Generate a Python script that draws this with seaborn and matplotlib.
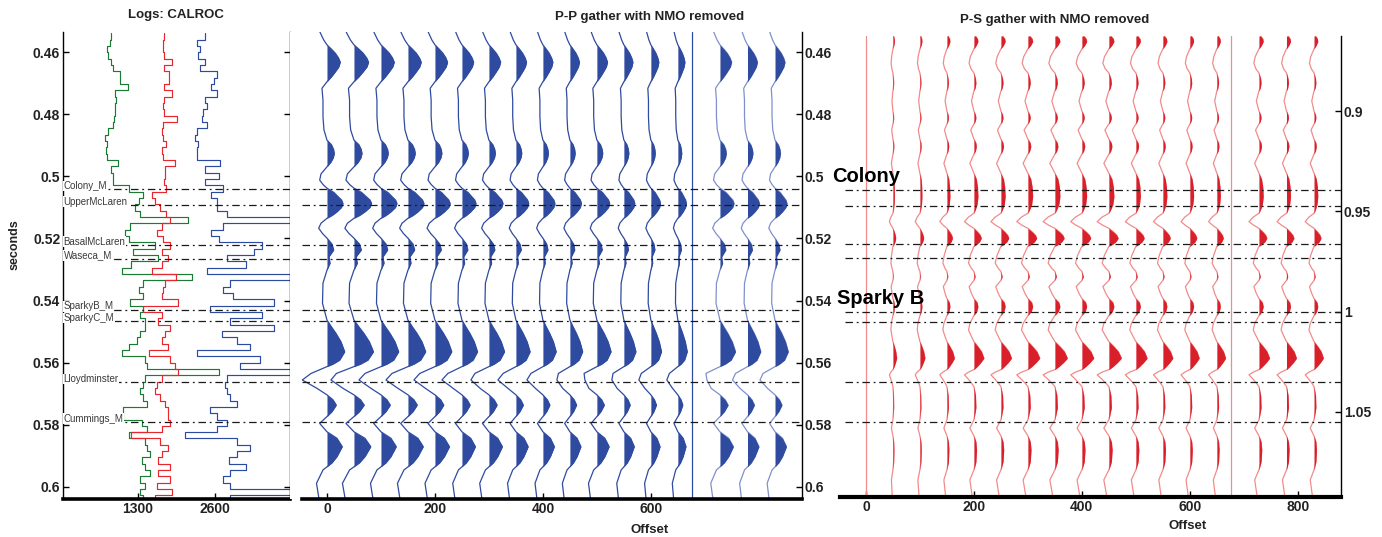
import numpy as np
import pandas as pd
import matplotlib.pyplot as plt
import matplotlib.ticker as mticker
import seaborn as sns

# well logs (CALROC), one sample every ~2 ms starting at 0.4539 s
LOG_T0 = 0.4539
LOG_DT = 0.00204
log_green = [840, 830, 780, 800, 840, 880, 1000, 990, 1130, 910,
             930, 920, 910, 900, 870, 800, 740, 770, 760, 780,
             970, 840, 880, 870, 1140, 1390, 1320, 1250, 1330, 2150,
             1170, 1080, 1140, 1590, 1220, 1640, 1190, 1030, 2210, 1390,
             1310, 1390, 1170, 1390, 1330, 1420, 1420, 1330, 1280, 1150,
             1030, 1420, 1450, 2660, 1420, 1390, 1330, 1390, 1450, 1050,
             1050, 1360, 1450, 1140, 1420, 1450, 1500, 1360, 1420, 1500,
             1330, 1420, 1330, 1390, 1420, 1420]
log_red = [1740, 1730, 1730, 1740, 1870, 1740, 1830, 1820, 1740, 1870,
           1740, 1730, 1740, 1960, 1720, 1700, 1720, 1780, 1700, 1720,
           1930, 1760, 1760, 1740, 1780, 1530, 1590, 1670, 1780, 1840,
           1700, 1620, 1720, 1840, 1700, 1810, 1700, 1530, 1950, 1760,
           1730, 1700, 1980, 1390, 1700, 1640, 1840, 1760, 1700, 1810,
           1480, 1840, 1930, 1980, 1700, 1620, 1590, 1670, 1760, 1810,
           1810, 1840, 1700, 1190, 1670, 1810, 1700, 1640, 1840, 1640,
           1840, 1620, 1870, 1590, 1590, 1590]
log_blue = [2430, 2290, 2340, 2320, 2430, 2350, 2630, 2580, 2540, 2630,
            2430, 2460, 2400, 2380, 2460, 2290, 2260, 2320, 2290, 2290,
            2690, 2430, 2660, 2430, 2740, 2540, 2630, 2630, 2800, 3870,
            2740, 2540, 2660, 3390, 3250, 2800, 3130, 2460, 3870, 2850,
            2740, 2910, 3590, 2520, 3390, 2850, 3590, 2710, 2970, 3190,
            2290, 3360, 3020, 3870, 2800, 2770, 2800, 2850, 2970, 2520,
            2630, 2800, 2630, 2090, 2970, 3190, 2970, 2830, 3130, 2850,
            2740, 2850, 3870, 2850, 2910, 2910]

# formation tops in P-P time and in P-S time
tops_names = ['Colony_M', 'UpperMcLaren', 'BasalMcLaren', 'Waseca_M',
              'SparkyB_M', 'SparkyC_M', 'Lloydminster', 'Cummings_M']
tops_pp = [0.5042, 0.5092, 0.5221, 0.5266, 0.5430, 0.5467, 0.5664, 0.5792]
tops_ps = [0.9394, 0.9474, 0.9663, 0.9733, 1.0001, 1.0051, 1.0352, 1.0550]

# P-P synthetic trace (amplitude in offset units) and per-trace values
pp_time = [0.4535, 0.4560, 0.4576, 0.4590, 0.4603, 0.4618, 0.4632, 0.4647, 0.4663, 0.4679,
           0.4695, 0.4716, 0.4754, 0.4808, 0.4850, 0.4883, 0.4898, 0.4913, 0.4926, 0.4940,
           0.4955, 0.4969, 0.4992, 0.5012, 0.5026, 0.5038, 0.5052, 0.5065, 0.5076, 0.5087,
           0.5100, 0.5114, 0.5126, 0.5135, 0.5151, 0.5167, 0.5184, 0.5199, 0.5218, 0.5237,
           0.5259, 0.5280, 0.5302, 0.5344, 0.5409, 0.5463, 0.5485, 0.5506, 0.5533, 0.5565,
           0.5592, 0.5605, 0.5613, 0.5635, 0.5656, 0.5683, 0.5704, 0.5720, 0.5737, 0.5758,
           0.5774, 0.5796, 0.5823, 0.5844, 0.5871, 0.5903, 0.5923, 0.5936, 0.5946, 0.5989,
           0.6039]
pp_amp = [-13.0, -6.1, 0, 8.3, 15.4, 21.3, 24.6, 21.9, 15.4, 8.3,
          0, -9.3, -7.4, -7.4, -5.6, 0, 8.3, 12.2, 13.5, 11.7,
          6.9, 0, -11.1, -13.5, -7.4, 0, 13.0, 20.4, 26.9, 29.6,
          26.9, 18.5, 9.3, 0, -11.1, -15.4, -8.3, 0, 9.3, 12.4,
          3.7, 5.6, 0, -7.4, -8.3, 0, 8.3, 16.7, 25.9, 32.8,
          23.5, 11.1, 0, -29.6, -45.7, -18.5, 0, 11.1, 17.2, 9.3,
          0, -13.5, 0, 18.5, 28.3, 18.5, 9.3, 0, -7.4, -19.4,
          -14.8]
pp_offsets = [0, 50, 100, 150, 200, 250, 300, 350, 400, 450, 500, 550, 600, 650, 677, 728, 779, 830]
pp_gain = [1.0, 1.1, 1.0, 1.0, 0.95, 0.88, 0.88, 0.8, 0.75, 0.72, 0.8, 0.68, 0.6, 0.53, 0.0, 0.88, 0.75, 0.75]
pp_trough = [-45.7, -42.6, -40.7, -40.7, -38.9, -37.0, -33.3, -33.3, -29.6, -24.1,
             -22.2, -22.2, -22.2, -20.4, 0.0, -24.1, -27.8, -27.8]
PP_TROUGH_AT = 54

# P-S synthetic trace (amplitude in offset units) and per-trace gains
ps_time = [0.8626, 0.8640, 0.8654, 0.8672, 0.8690, 0.8730, 0.8762, 0.8790, 0.8810, 0.8840,
           0.8862, 0.8885, 0.8900, 0.8950, 0.9000, 0.9020, 0.9036, 0.9052, 0.9065, 0.9095,
           0.9140, 0.9160, 0.9178, 0.9198, 0.9215, 0.9261, 0.9310, 0.9340, 0.9380, 0.9427,
           0.9465, 0.9490, 0.9510, 0.9530, 0.9552, 0.9570, 0.9585, 0.9605, 0.9620, 0.9635,
           0.9652, 0.9665, 0.9675, 0.9720, 0.9759, 0.9785, 0.9800, 0.9826, 0.9845, 0.9876,
           0.9910, 0.9935, 0.9955, 0.9976, 1.0000, 1.0020, 1.0060, 1.0092, 1.0125, 1.0150,
           1.0175, 1.0200, 1.0233, 1.0255, 1.0275, 1.0290, 1.0303, 1.0316, 1.0337, 1.0357,
           1.0374, 1.0420, 1.0480, 1.0540, 1.0582, 1.0620, 1.0650, 1.0690, 1.0750, 1.0790,
           1.0840, 1.0925]
ps_amp = [3.7, 8.3, 9.3, 5.6, 0, -8.3, -11.1, -6.5, 0, 3.7,
          4.6, 2.8, 0, -5.6, 0, 3.7, 4.6, 2.8, 0, -7.4,
          0, 4.6, 5.6, 3.7, 0, -9.3, 0, 5.6, 8.3, 9.3,
          7.4, 3.7, 0, -13.0, -21.7, -11.1, 0, 9.3, 14.8, 17.2,
          13.0, 6.5, 0, -8.3, -12.4, -5.6, 0, 2.8, 0, -11.1,
          -5.6, 0, 7.4, 9.3, 6.5, 0, -9.3, -12.4, -5.6, 0,
          9.3, 17.6, 23.2, 15.7, 7.4, 0, -13.0, -21.7, -13.0, -5.6,
          0, 3.7, 4.6, 0, -9.3, 0, 4.6, 6.1, 4.6, 0,
          -9.3, -3.7]
ps_offsets = [0, 50, 100, 150, 200, 250, 300, 350, 400, 450, 500, 550, 600, 650, 677, 728, 779, 830]
ps_gain = [0.0, 0.3, 0.4, 0.6, 0.8, 0.85, 0.95, 1.0, 0.95, 1.0, 0.9, 0.8, 0.75, 0.7, 0.0, 0.85, 0.8, 0.75]

pp_ticks = [0.46, 0.48, 0.5, 0.52, 0.54, 0.56, 0.58, 0.6]
ps_ticks = [0.9, 0.95, 1.0, 1.05]

# colours
GREEN, RED, BLUE = '#1b7a33', '#e8262d', '#2b4ba0'
PP_FILL, PP_LINE, PP_FAR = '#2f4b9f', '#2f4b9f', '#8090cc'
PS_FILL, PS_LINE = '#d9202a', '#f28b8b'
TOP_STYLE = dict(color='#1a1a1a', lw=0.9, ls=(0, (6, 3, 1.5, 3)), zorder=5)

sns.set_style('white')
plt.rcParams['font.family'] = ['Liberation Sans', 'DejaVu Sans']

W, H = 1382, 537
fig = plt.figure(figsize=(W / 100, H / 100), dpi=100)


def box(x0, y0, x1, y1):
    return [x0 / W, 1 - y1 / H, (x1 - x0) / W, (y1 - y0) / H]


ax_log = fig.add_axes(box(63, 32, 290, 499))
ax_pp = fig.add_axes(box(290, 32, 802, 499))
ax_ps = fig.add_axes(box(840, 36, 1341, 497))

# logs panel

log_time = LOG_T0 + LOG_DT * np.arange(len(log_green))
logs = pd.DataFrame({
    'time': np.tile(log_time, 3),
    'value': log_green + log_red + log_blue,
    'curve': np.repeat(['green', 'red', 'blue'], len(log_time)),
})
sns.lineplot(data=logs, x='value', y='time', hue='curve',
             palette={'green': GREEN, 'red': RED, 'blue': BLUE},
             estimator=None, sort=False, legend=False,
             drawstyle='steps-pre', lw=0.85, ax=ax_log)
ax_log.set(xlim=(34, 3866), ylim=(0.60396, 0.45346), xlabel='', ylabel='')
ax_log.set_xticks([1300, 2600])

for name, t in zip(tops_names, tops_pp):
    ax_log.axhline(t, **TOP_STYLE)
    ax_log.text(0.003, t - 0.0011, name, transform=ax_log.get_yaxis_transform(),
                fontsize=7, color='#3a3a3a', va='center', ha='left', zorder=6,
                bbox=dict(fc='white', ec='none', pad=0.2))


# gathers

def gather(offsets, gains, times, amps, fixed=None, fixed_at=None):
    frames = []
    for i, (off, g) in enumerate(zip(offsets, gains)):
        a = g * np.asarray(amps, dtype=float)
        if fixed is not None:
            a[fixed_at] = fixed[i]
        frames.append(pd.DataFrame({'trace': i, 'offset': off, 'time': times,
                                    'amp': a, 'x': off + a}))
    return pd.concat(frames, ignore_index=True)


pp = gather(pp_offsets, pp_gain, pp_time, pp_amp, pp_trough, PP_TROUGH_AT)
pp['group'] = np.where(pp['offset'] > 700, 'far', 'near')
sns.lineplot(data=pp, x='x', y='time', units='trace', hue='group',
             palette={'near': PP_LINE, 'far': PP_FAR}, estimator=None,
             sort=False, legend=False, lw=0.9, ax=ax_pp, zorder=2)
for _, tr in pp.groupby('trace'):
    ax_pp.fill_betweenx(tr['time'], tr['offset'], tr['offset'] + tr['amp'].clip(lower=0),
                        color=PP_FILL, lw=0, zorder=3)
ax_pp.set(xlim=(-68.5, 880), ylim=(0.60396, 0.45346), xlabel='', ylabel='')
ax_pp.set_xticks([0, 200, 400, 600])
for t in tops_pp:
    ax_pp.axhline(t, xmin=0.023, **TOP_STYLE)

ps = gather(ps_offsets, ps_gain, ps_time, ps_amp)
sns.lineplot(data=ps, x='x', y='time', units='trace', color=PS_LINE,
             estimator=None, sort=False, legend=False, lw=0.9, ax=ax_ps, zorder=2)
for _, tr in ps.groupby('trace'):
    ax_ps.fill_betweenx(tr['time'], tr['offset'], tr['offset'] + tr['amp'].clip(lower=0),
                        color=PS_FILL, lw=0, zorder=3)
ax_ps.set(xlim=(-48, 880), ylim=(1.09252, 0.86259), xlabel='', ylabel='')
ax_ps.set_xticks([0, 200, 400, 600, 800])
for t in tops_ps:
    ax_ps.axhline(t, xmin=0.01, **TOP_STYLE)

# axes styling

tick_font = dict(fontsize=10, fontweight='bold', color='#222222')
for ax in (ax_log, ax_pp, ax_ps):
    ax.yaxis.set_major_formatter(mticker.FormatStrFormatter('%g'))
    ax.tick_params(direction='in', length=4, width=1, colors='black', pad=2)
    ax.spines['top'].set_visible(False)
    for s in ax.spines.values():
        s.set_color('black')
        s.set_linewidth(1)
    ax.spines['bottom'].set_linewidth(2.6)

ax_log.set_yticks(pp_ticks)
ax_log.tick_params(axis='y', left=True, right=True, labelleft=True, labelright=False)
ax_log.tick_params(axis='x', bottom=True)

ax_pp.set_yticks(pp_ticks)
ax_pp.tick_params(axis='y', left=False, right=True, labelleft=False, labelright=True)
ax_pp.tick_params(axis='x', bottom=True)
ax_pp.spines['left'].set_visible(False)
ax_pp.spines['bottom'].set_bounds(-46, 880)

ax_ps.set_yticks(ps_ticks)
ax_ps.tick_params(axis='y', left=False, right=True, labelleft=False, labelright=True)
ax_ps.tick_params(axis='x', bottom=True)
ax_ps.spines['left'].set_visible(False)
ax_ps.spines['bottom'].set_linewidth(3)

for ax in (ax_log, ax_pp, ax_ps):
    for lab in ax.get_xticklabels() + ax.get_yticklabels():
        lab.set(**tick_font)

# titles and labels

title_font = dict(fontsize=9.5, fontweight='bold', color='#222222', ha='center', va='center')
fig.text(176 / W, 1 - 15 / H, 'Logs: CALROC', **title_font)
fig.text(650 / W, 1 - 17 / H, 'P-P gather with NMO removed', **title_font)
fig.text(1055 / W, 1 - 20 / H, 'P-S gather with NMO removed', **title_font)
fig.text(15 / W, 1 - 245 / H, 'seconds', rotation=90, **dict(title_font, fontsize=9))
fig.text(650 / W, 1 - 530 / H, 'Offset', **title_font)
fig.text(1188 / W, 1 - 526 / H, 'Offset', **title_font)
big_font = dict(fontsize=14.5, fontweight='bold', color='black', va='center', ha='left')
fig.text(832 / W, 1 - 177 / H, 'Colony', **big_font)
fig.text(837 / W, 1 - 298 / H, 'Sparky B', **big_font)

plt.savefig('out.png', dpi=100)
